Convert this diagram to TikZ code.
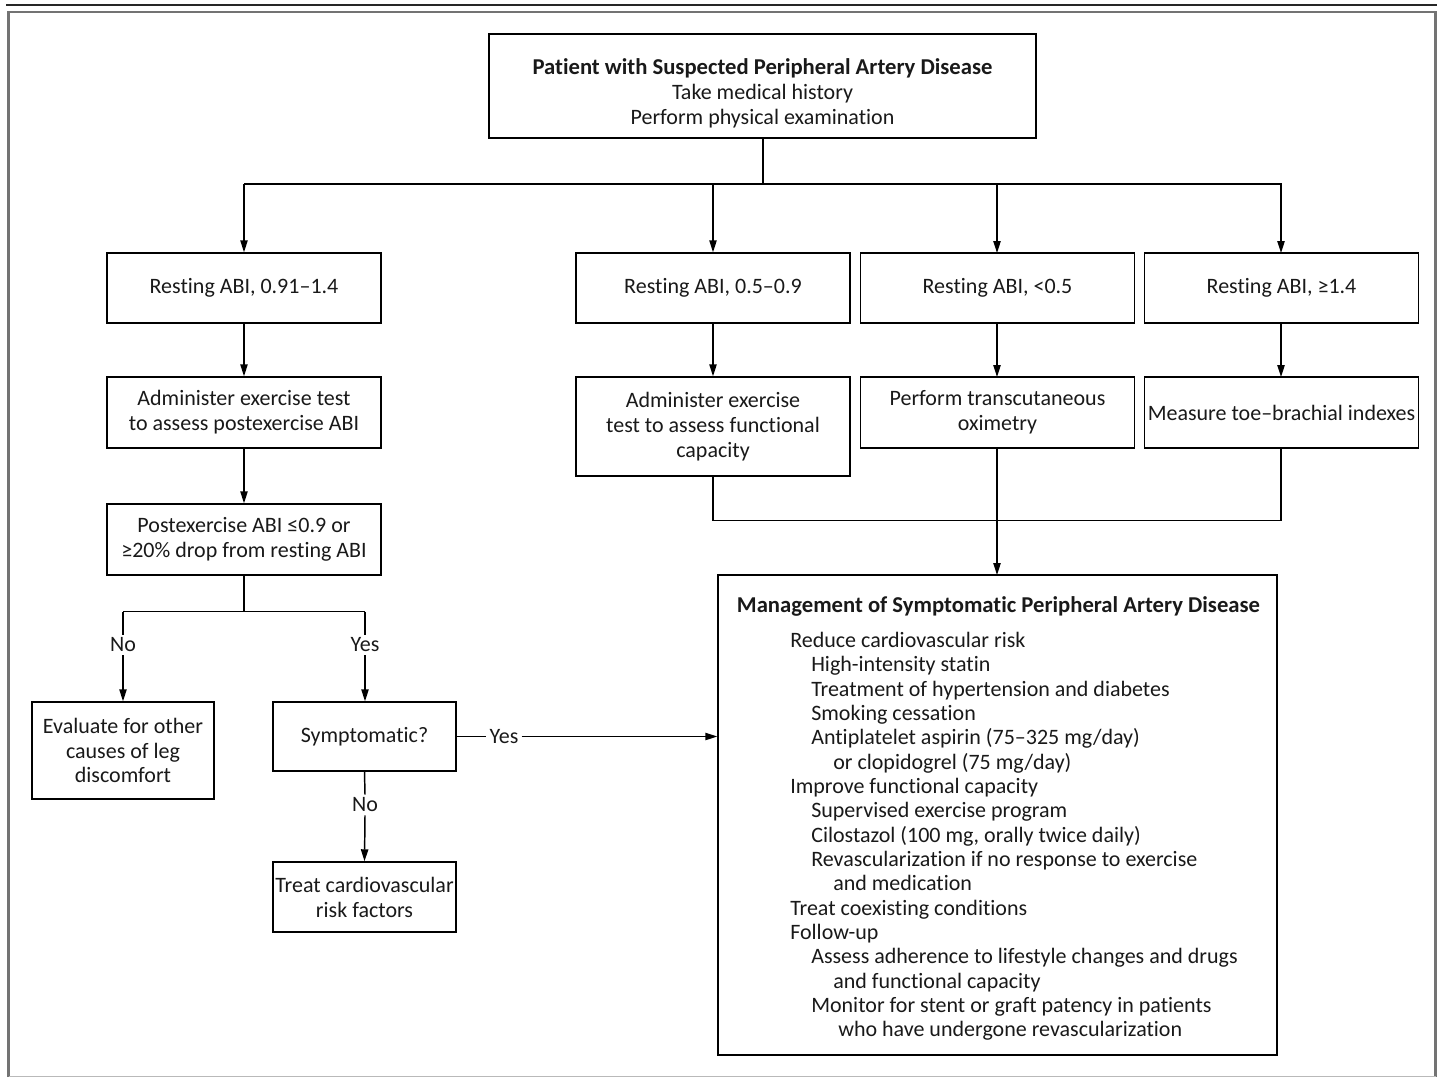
\documentclass[tikz,border=0pt]{standalone}
\usepackage{fontspec}
\setmainfont{Carlito}[Ligatures=NoCommon]
\usetikzlibrary{arrows.meta,positioning}
\begin{document}
\begin{tikzpicture}[x=0.75pt,y=-0.75pt,
  every node/.style={font=\fontsize{16.5}{18.7}\selectfont, text=black!90},
  box/.style={draw, line width=1.1pt, align=center, inner sep=0pt, minimum width=205.5pt, minimum height=52.5pt},
  conn/.style={line width=1.1pt},
  arr/.style={conn, -{Triangle[length=9pt,width=5.5pt]}},
  lbl/.style={inner sep=2.2pt},
  ttl/.style={font=\fontsize{17}{18.7}\selectfont\bfseries}]
\useasboundingbox (0,0) rectangle (1437,1077);
% frame
\draw[line width=1.6pt, black!85] (6,5) -- (1437,5);
\draw[line width=1.6pt, gray!90!black] (8.5,1077) -- (8.5,12) -- (1435.5,12) -- (1435.5,1077);
\draw[line width=0.8pt, gray!55] (8.5,1076.5) -- (1435.5,1076.5);

% top
\node[box, minimum width=410.25pt, minimum height=78pt] (top) at (762.5,86) {};
\node[inner sep=0pt, align=center] (toptext) at (762.5,93)
  {{\fontsize{17}{18.7}\selectfont\bfseries Patient with Suspected Peripheral Artery Disease}\\Take medical history\\Perform physical examination};

% row 1
\node[box] (r1a) at (244,288) {Resting ABI, 0.91\textendash1.4};
\node[box] (r1b) at (713,288) {Resting ABI, 0.5\textendash0.9};
\node[box] (r1c) at (997.5,288) {Resting ABI, <0.5};
\node[box] (r1d) at (1281.5,288) {Resting ABI, ≥1.4};

% row 2
\node[box, minimum height=53.25pt] (r2a) at (244,412.5) {Administer exercise test\\to assess postexercise ABI};
\node[box, minimum height=74.25pt] (r2b) at (713,426.5) {Administer exercise\\test to assess functional\\capacity};
\node[box, minimum height=53.25pt] (r2c) at (997.5,412.5) {Perform transcutaneous\\oximetry};
\node[box, minimum height=53.25pt] (r2d) at (1281.5,412.5) {Measure toe\textendash brachial indexes};

% row 3
\node[box, minimum height=53.25pt] (r3a) at (244,539.5) {Postexercise ABI ≤0.9 or\\≥20\% drop from resting ABI};

% lower left
\node[lbl] (noA) at (123,645) {No};
\node[lbl] (yesA) at (365,645) {Yes};
\node[box, minimum width=136.5pt, minimum height=72.75pt] (eval) at (123,750.5) {Evaluate for other\\causes of leg\\discomfort};
\node[box, minimum width=137.25pt, minimum height=51.75pt] (symp) at (364.5,736.5) {Symptomatic?};
\node[lbl] (yesB) at (504,736.5) {Yes};
\node[lbl] (noB) at (365,805) {No};
\node[box, minimum width=137.25pt, minimum height=52.5pt] (treat) at (364.5,897) {Treat cardiovascular\\risk factors};

% management
\node[box, minimum width=419.25pt, minimum height=360pt] (mgmt) at (997.5,815) {};
\node[inner sep=0pt, ttl] (mtitle) at (998.5,606) {Management of Symptomatic Peripheral Artery Disease};
\node[inner sep=0pt, anchor=north west, align=left, font=\fontsize{16.5}{18.25}\selectfont] (mlist) at (790,632) {%
Reduce cardiovascular risk\\
\hspace*{15.75pt}High-intensity statin\\
\hspace*{15.75pt}Treatment of hypertension and diabetes\\
\hspace*{15.75pt}Smoking cessation\\
\hspace*{15.75pt}Antiplatelet aspirin (75\textendash325 mg/day)\\
\hspace*{32.25pt}or clopidogrel (75 mg/day)\\
Improve functional capacity\\
\hspace*{15.75pt}Supervised exercise program\\
\hspace*{15.75pt}Cilostazol (100 mg, orally twice daily)\\
\hspace*{15.75pt}Revascularization if no response to exercise\\
\hspace*{32.25pt}and medication\\
Treat coexisting conditions\\
Follow-up\\
\hspace*{15.75pt}Assess adherence to lifestyle changes and drugs\\
\hspace*{32.25pt}and functional capacity\\
\hspace*{15.75pt}Monitor for stent or graft patency in patients\\
\hspace*{36pt}who have undergone revascularization};

% connectors
\coordinate (bus) at (763,184);
\draw[conn] (top.south -| bus) -- (bus);
\draw[conn] (r1a.north |- bus) -- (r1d.north |- bus);
\draw[arr] (r1a.north |- bus) -- (r1a.north);
\draw[arr] (r1b.north |- bus) -- (r1b.north);
\draw[arr] (997,184) -- (997,253);
\draw[arr] (1281,184) -- (1281,253);

\draw[arr] (r1a) -- (r2a);
\draw[arr] (r1b) -- (r2b);
\draw[arr] (997,323) -- (997,377);
\draw[arr] (1281,323) -- (1281,377);
\draw[arr] (r2a) -- (r3a);

\draw[conn] (r2b.south) -- ++(0,44) -| (1281,448);
\draw[arr] (997,448) -- (997,575);

\draw[conn] (r3a.south) -- ++(0,36) coordinate (split);
\draw[conn] (split -| noA) -- (split -| yesA);
\draw[conn] (split -| noA) -- (noA.north);
\draw[conn] (split -| yesA) -- (yesA.north);
\draw[arr] (noA.south) -- (eval.north);
\draw[arr] (yesA.south) -- (symp.north -| yesA);

\draw[conn] (symp.east) -- (yesB.west);
\draw[arr] (yesB.east) -- (yesB.east -| mgmt.west);
\draw[conn] (symp.south) -- (noB.north);
\draw[arr] (noB.south) -- (treat.north);
\end{tikzpicture}
\end{document}
